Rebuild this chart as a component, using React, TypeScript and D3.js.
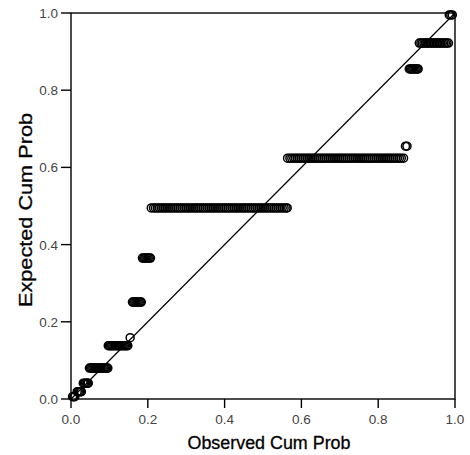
import React from 'react';
import * as d3 from 'd3';

// expected cumulative probability of each step
const expected = [0.006, 0.019, 0.041, 0.080, 0.138, 0.159, 0.251, 0.365, 0.495, 0.624, 0.655, 0.855, 0.922, 0.995];

// observed cumulative probabilities plotted at each step
const observed = [
  [0.004, 0.007, 0.010],
  [0.016, 0.019, 0.022, 0.025, 0.027],
  [0.032, 0.035, 0.038, 0.041, 0.043, 0.045],
  [0.048, 0.051, 0.054, 0.057, 0.060, 0.063, 0.066, 0.069, 0.072, 0.075, 0.078, 0.081, 0.084, 0.087,
    0.090, 0.093, 0.096],
  [0.097, 0.100, 0.103, 0.106, 0.109, 0.112, 0.115, 0.118, 0.121, 0.124, 0.127, 0.130, 0.133, 0.136,
    0.139, 0.142, 0.145, 0.148],
  [0.154],
  [0.160, 0.163, 0.166, 0.169, 0.172, 0.175, 0.178, 0.181, 0.183],
  [0.186, 0.189, 0.192, 0.195, 0.198, 0.201, 0.204, 0.207],
  [0.209, 0.215, 0.220, 0.225, 0.230, 0.235, 0.240, 0.245, 0.250, 0.255, 0.260, 0.265, 0.270, 0.275,
    0.280, 0.285, 0.290, 0.295, 0.300, 0.305, 0.310, 0.315, 0.320, 0.325, 0.330, 0.335, 0.340, 0.345,
    0.350, 0.355, 0.360, 0.365, 0.370, 0.375, 0.380, 0.385, 0.390, 0.395, 0.400, 0.405, 0.410, 0.415,
    0.420, 0.425, 0.430, 0.435, 0.440, 0.445, 0.450, 0.455, 0.460, 0.465, 0.470, 0.475, 0.480, 0.485,
    0.490, 0.495, 0.500, 0.505, 0.510, 0.515, 0.520, 0.525, 0.530, 0.535, 0.540, 0.545, 0.550, 0.555,
    0.560, 0.563],
  [0.564, 0.570, 0.575, 0.580, 0.585, 0.590, 0.595, 0.600, 0.605, 0.610, 0.615, 0.620, 0.625, 0.630,
    0.635, 0.640, 0.645, 0.650, 0.655, 0.660, 0.665, 0.670, 0.675, 0.680, 0.685, 0.690, 0.695, 0.700,
    0.705, 0.710, 0.715, 0.720, 0.725, 0.730, 0.735, 0.740, 0.745, 0.750, 0.755, 0.760, 0.765, 0.770,
    0.775, 0.780, 0.785, 0.790, 0.795, 0.800, 0.805, 0.810, 0.815, 0.820, 0.825, 0.830, 0.835, 0.840,
    0.845, 0.850, 0.855, 0.860, 0.866],
  [0.871, 0.875],
  [0.881, 0.884, 0.887, 0.890, 0.893, 0.896, 0.899, 0.902, 0.904],
  [0.907, 0.911, 0.915, 0.919, 0.923, 0.927, 0.931, 0.935, 0.939, 0.943, 0.947, 0.951, 0.955, 0.959,
    0.963, 0.967, 0.971, 0.975, 0.979, 0.983],
  [0.985, 0.989, 0.993],
];

const ticks = [0, 0.2, 0.4, 0.6, 0.8, 1.0];

const W = 470;
const H = 455;
const margin = { top: 13, right: 15, bottom: 56, left: 71 };

const App = () => {
  const x = d3.scaleLinear().domain([0, 1]).range([margin.left, W - margin.right]);
  const y = d3.scaleLinear().domain([0, 1]).range([H - margin.bottom, margin.top]);
  const font = '"Liberation Sans", Arial, sans-serif';
  const points = observed.flatMap((row, i) => row.map(v => ({ o: v, e: expected[i] })));

  return (
    <svg width={W} height={H} style={{ position: 'absolute', left: 0, top: 0, background: '#fff' }}>
      <rect x={0} y={0} width={W} height={H} fill="#fff" />
      <line x1={x(0)} y1={y(0)} x2={x(1)} y2={y(1)} stroke="#000" strokeWidth={1.2} />
      {points.map((p, i) => (
        <circle key={i} cx={x(p.o)} cy={y(p.e)} r={4} fill="none" stroke="#000" strokeWidth={1.5} />
      ))}
      <rect x={x(0)} y={y(1)} width={x(1) - x(0)} height={y(0) - y(1)} fill="none" stroke="#000" strokeWidth={1.4} />
      {ticks.map(t => (
        <g key={'x' + t}>
          <line x1={x(t)} x2={x(t)} y1={y(0)} y2={y(0) + 9} stroke="#000" strokeWidth={1.4} />
          <text x={x(t)} y={y(0) + 25} textAnchor="middle" fontSize={13.5} fill="#444" fontFamily={font}>
            {t.toFixed(1)}
          </text>
        </g>
      ))}
      {ticks.map(t => (
        <g key={'y' + t}>
          <line x1={x(0) - 10} x2={x(0)} y1={y(t)} y2={y(t)} stroke="#000" strokeWidth={1.4} />
          <text x={x(0) - 13} y={y(t) + 5} textAnchor="end" fontSize={13.5} fill="#444" fontFamily={font}>
            {t.toFixed(1)}
          </text>
        </g>
      ))}
      <text x={269} y={449} textAnchor="middle" fontSize={18} fill="#000" stroke="#000" strokeWidth={0.3}
        fontFamily={font} textLength={163} lengthAdjust="spacingAndGlyphs">
        Observed Cum Prob
      </text>
      <text transform="translate(32,210) rotate(-90)" textAnchor="middle" fontSize={18} fill="#000" stroke="#000"
        strokeWidth={0.3} fontFamily={font} textLength={194} lengthAdjust="spacingAndGlyphs">
        Expected Cum Prob
      </text>
    </svg>
  );
};

export default App;
